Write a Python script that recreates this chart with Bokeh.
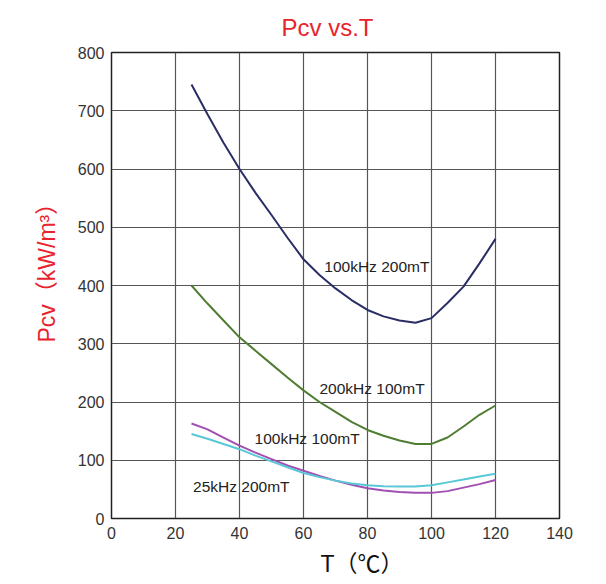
from bokeh.plotting import figure
from bokeh.models import Range1d, FixedTicker, Label, Title
from bokeh.embed import file_html
from bokeh.resources import INLINE

# Data
T = [25, 30, 35, 40, 45, 50, 55, 60, 65, 70, 75, 80, 85, 90, 95, 100, 105, 110, 115, 120]
p_100k_200m = [745, 694, 645, 600, 559, 521, 482, 445, 418, 395, 375, 358, 347, 340, 336, 344, 370, 398, 438, 480]
p_200k_100m = [400, 369, 340, 311, 288, 265, 242, 220, 200, 183, 166, 152, 142, 134, 128, 128, 139, 158, 178, 194]
p_100k_100m = [163, 153, 139, 125, 113, 102, 91, 82, 73, 65, 58, 52, 48, 45.5, 44, 44, 47, 53, 59, 66]
p_25k_200m = [145, 137, 128, 119, 108, 98, 88, 78, 71, 65, 60, 57, 55.5, 55, 55, 57, 62, 67, 72, 77]

x_ticks = [0, 20, 40, 60, 80, 100, 120, 140]
y_ticks = [0, 100, 200, 300, 400, 500, 600, 700, 800]

labels = ["100kHz 200mT", "200kHz 100mT", "100kHz 100mT", "25kHz 200mT"]
label_x = [66.5, 65.0, 44.7, 25.5]
label_y = [433, 223, 138, 55]

title_text = "Pcv vs.T"
x_title = "T（℃）"
y_title = "Pcv（kW/m³）"

FONT = "Liberation Sans, Noto Sans CJK SC"
RED = "#e8232b"

p = figure(width=600, height=584, output_backend="svg", toolbar_location=None,
           x_range=Range1d(0, 140), y_range=Range1d(0, 800),
           min_border_left=111, min_border_right=41, min_border_top=51, min_border_bottom=65)

p.outline_line_color = "#222222"
p.outline_line_width = 1.5
p.background_fill_color = "white"
p.border_fill_color = "white"

for ax in (p.xaxis[0], p.yaxis[0]):
    ax.major_tick_in = 0
    ax.major_tick_out = 0
    ax.minor_tick_in = 0
    ax.minor_tick_out = 0
    ax.axis_line_color = "#222222"
    ax.major_label_text_font_size = "16px"
    ax.major_label_text_font = FONT
    ax.major_label_text_color = "#333333"

p.xaxis.ticker = FixedTicker(ticks=x_ticks)
p.yaxis.ticker = FixedTicker(ticks=y_ticks)
p.xaxis.major_label_standoff = 8
p.yaxis.major_label_standoff = 7

p.grid.grid_line_color = "#555555"
p.grid.grid_line_width = 1.2

p.line(T, p_100k_200m, line_color="#2a2d66", line_width=2)
p.line(T, p_200k_100m, line_color="#4f7d31", line_width=2)
p.line(T, p_100k_100m, line_color="#a24fb3", line_width=2)
p.line(T, p_25k_200m, line_color="#58c8d6", line_width=2)

for t, x, y in zip(labels, label_x, label_y):
    p.add_layout(Label(x=x, y=y, text=t, text_font=FONT, text_font_size="15.5px",
                       text_color="#222222", text_baseline="middle", text_align="left"))

# Title and axis titles as Title panels so they can be offset along the frame
p.add_layout(Title(text=title_text, text_font=FONT, text_font_size="24px", text_font_style="normal",
                   text_color=RED, align="left", offset=170, standoff=23), "above")
p.add_layout(Title(text=x_title, text_font=FONT, text_font_size="23px", text_font_style="normal",
                   text_color="#111111", align="left", offset=209, standoff=15), "below")
p.add_layout(Title(text=y_title, text_font=FONT, text_font_size="23px", text_font_style="normal",
                   text_color=RED, align="left", offset=176, standoff=30), "left")

open("out.html", "w").write(file_html(p, INLINE))
